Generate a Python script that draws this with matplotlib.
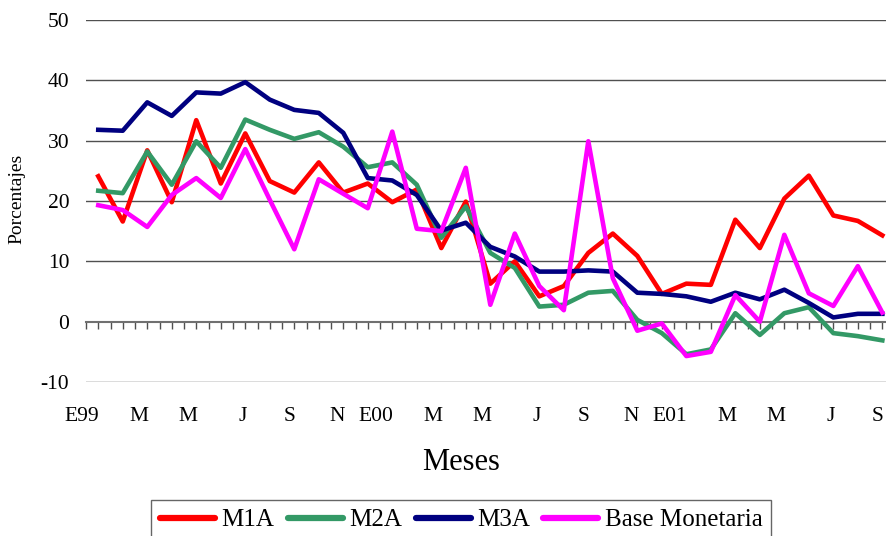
import numpy as np
import matplotlib
matplotlib.use("Agg")
import matplotlib.pyplot as plt
from matplotlib.transforms import blended_transform_factory

plt.rcParams['font.family'] = ['Liberation Serif', 'DejaVu Serif']
plt.rcParams['axes.unicode_minus'] = False

# monthly growth rates, Jan 1999 - Sep 2001
m1a = [24.1, 16.6, 28.4, 19.8, 33.4, 22.9, 31.2, 23.3, 21.4, 26.4, 21.4, 22.9,
       19.8, 21.9, 12.2, 19.9, 6.3, 10.0, 4.2, 5.9, 11.4, 14.6, 10.9, 4.6,
       6.3, 6.1, 16.9, 12.2, 20.4, 24.2, 17.6, 16.7, 14.3]
m2a = [21.7, 21.3, 28.2, 22.7, 29.9, 25.5, 33.5, 31.8, 30.3, 31.4, 29.0, 25.6,
       26.4, 22.7, 13.9, 19.1, 11.4, 8.9, 2.5, 2.8, 4.8, 5.1, 0.3, -1.9,
       -5.4, -4.6, 1.4, -2.2, 1.4, 2.4, -1.9, -2.4, -3.1]
m3a = [31.8, 31.65, 36.35, 34.1, 38.0, 37.8, 39.7, 36.8, 35.1, 34.6, 31.3, 23.8,
       23.4, 21.0, 15.1, 16.4, 12.4, 10.8, 8.3, 8.3, 8.5, 8.3, 4.8, 4.6,
       4.2, 3.3, 4.8, 3.7, 5.3, 3.1, 0.7, 1.3, 1.3]
base = [19.3, 18.5, 15.7, 21.0, 23.8, 20.5, 28.6, 20.2, 12.0, 23.6, 21.2, 18.8,
        31.5, 15.4, 15.0, 25.5, 2.8, 14.6, 5.9, 1.9, 29.9, 7.2, -1.5, -0.3,
        -5.7, -5.0, 4.4, 0.0, 14.4, 4.7, 2.6, 9.2, 1.5]
month_labels = ["E99", "M", "M", "J", "S", "N", "E00", "M", "M", "J", "S", "N",
                "E01", "M", "M", "J", "S"]

x = np.arange(len(m1a))

fig = plt.figure(figsize=(8.87, 5.36), dpi=100)
ax = fig.add_axes([86 / 887, 1 - 382 / 536, 1 - 86 / 887, 362 / 536])
ax.set_xlim(-0.5, 32.19)
ax.set_ylim(-10, 50)

for v in range(-10, 51, 10):
    if v != 0:
        ax.axhline(v, color="#505050", lw=1.0, zorder=1)

ax.plot(x, m1a, color="#FF0000", lw=3.3, label="M1A", zorder=3)
ax.plot(x, m2a, color="#339966", lw=3.3, label="M2A", zorder=3)
ax.plot(x, m3a, color="#000080", lw=3.3, label="M3A", zorder=3)
ax.plot(x, base, color="#FF00FF", lw=3.3, label="Base Monetaria", zorder=3)

for s in ["left", "top", "right"]:
    ax.spines[s].set_visible(False)
ax.spines["bottom"].set_position(("data", 0))
ax.spines["bottom"].set_color("#707070")
ax.spines["bottom"].set_linewidth(1.5)
ax.spines["bottom"].set_zorder(2)

ax.set_xticks(np.arange(-0.5, 32.2, 0.5))
ax.set_xticklabels([])
ax.tick_params(axis="x", direction="out", length=5, width=1, color="#505050")
ax.set_yticks(range(-10, 51, 10))
ax.tick_params(axis="y", length=0, pad=12, labelsize=15.5)

trans = blended_transform_factory(ax.transData, ax.transAxes)
for i, lab in enumerate(month_labels):
    ax.text(2 * i + 0.05, -0.095, lab, transform=trans, ha="right", va="center",
            fontsize=15.5)

fig.text(461 / 887, 1 - 462 / 536, "Meses", ha="center", va="center", fontsize=22)
fig.text(17 / 887, 1 - 199 / 536, "Porcentajes", ha="center", va="center",
         rotation=90, fontsize=14)

leg = fig.legend(loc="upper left", bbox_to_anchor=(151 / 887, 1 - 500 / 536),
                 ncol=4, fontsize=18, frameon=True, fancybox=False,
                 handlelength=2.2, handletextpad=0.25, columnspacing=0.55,
                 borderpad=0.35, borderaxespad=0)
leg.get_frame().set_edgecolor("#404040")
leg.get_frame().set_linewidth(1.0)
for h in leg.get_lines():
    h.set_linewidth(4.5)
    h.set_solid_capstyle("round")

fig.savefig("out.png", dpi=100)
